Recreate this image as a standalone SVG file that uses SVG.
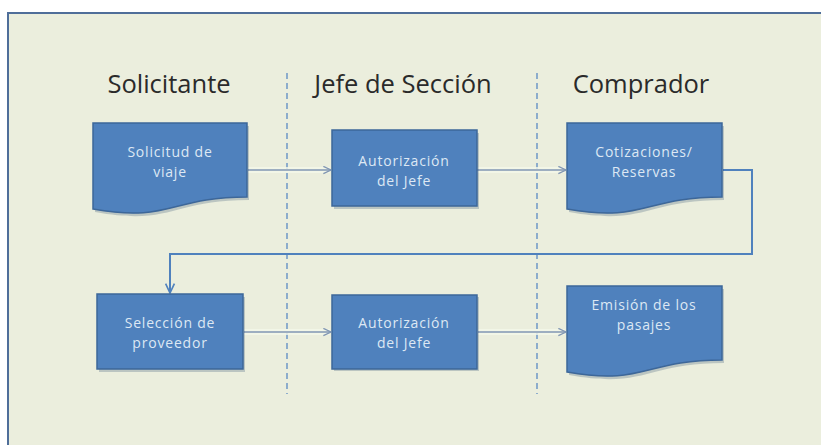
<svg xmlns="http://www.w3.org/2000/svg" width="821" height="445" viewBox="0 0 821 445">
  <style>
    .hdr { font-family: "Open Sans", "Liberation Sans", sans-serif; font-size: 25.5px; fill: #2a2a2a; text-anchor: middle; }
    .lbl { font-family: "Open Sans", "Liberation Sans", sans-serif; font-size: 14px; letter-spacing: 0.8px; fill: #dde8f4; text-anchor: middle; }
    .shape { fill: #4f81bd; stroke: #3d6799; stroke-width: 1.5; }
    .shadow { fill: #2d4a6e; opacity: 0.25; }
    .lane { stroke: #5b8ac4; stroke-width: 1.3; stroke-dasharray: 6 4; fill: none; }
    .conn { stroke: #8096b3; stroke-width: 1.5; fill: none; }
    .halo { stroke: #f4f7ea; stroke-width: 6; fill: none; opacity: 0.8; }
    .loop { stroke: #4f81bd; stroke-width: 2; fill: none; }
  </style>
  <defs>
    <marker id="arr" viewBox="0 0 10 10" refX="9.5" refY="5" markerWidth="9" markerHeight="9" markerUnits="userSpaceOnUse" orient="auto">
      <path d="M1,1 L9.5,5 L1,9" fill="none" stroke="#8096b3" stroke-width="1.5"/>
    </marker>
    <marker id="arrb" viewBox="0 0 10 10" refX="9.5" refY="5" markerWidth="11" markerHeight="11" markerUnits="userSpaceOnUse" orient="auto">
      <path d="M1,1 L9.5,5 L1,9" fill="none" stroke="#4f81bd" stroke-width="1.5"/>
    </marker>
  </defs>

  <rect x="0" y="0" width="821" height="445" fill="#ffffff"/>
  <rect x="8" y="13" width="830" height="450" fill="#ebeedd" stroke="#4f6e99" stroke-width="2"/>

  <g id="lanes">
    <line class="lane" x1="287" y1="73" x2="287" y2="394"/>
    <line class="lane" x1="537" y1="73" x2="537" y2="394"/>
  </g>

  <g id="headers">
    <text class="hdr" x="169" y="93">Solicitante</text>
    <text class="hdr" x="403" y="93">Jefe de Sección</text>
    <text class="hdr" x="641" y="93">Comprador</text>
  </g>

  <g id="connectors">
    <line class="halo" x1="248" y1="170" x2="330" y2="170"/>
    <line class="conn" x1="248" y1="170" x2="331" y2="170" marker-end="url(#arr)"/>
    <line class="halo" x1="477" y1="170" x2="565" y2="170"/>
    <line class="conn" x1="477" y1="170" x2="566" y2="170" marker-end="url(#arr)"/>
    <line class="halo" x1="244" y1="332" x2="330" y2="332"/>
    <line class="conn" x1="244" y1="332" x2="331" y2="332" marker-end="url(#arr)"/>
    <line class="halo" x1="478" y1="332" x2="565" y2="332"/>
    <line class="conn" x1="478" y1="332" x2="566" y2="332" marker-end="url(#arr)"/>
    <polyline class="loop" points="723,170 752,170 752,254 170,254 170,293" marker-end="url(#arrb)"/>
  </g>

  <g id="n1">
    <path class="shadow" d="M95,126 H249 V200 C172,200 172,226 95,212 Z"/>
    <path class="shape" d="M93,123 H247 V197 C170,197 170,223 93,209 Z"/>
    <text class="lbl" x="170" y="157">Solicitud de</text>
    <text class="lbl" x="170" y="176.5">viaje</text>
  </g>

  <g id="n2">
    <rect class="shadow" x="334" y="133" width="145" height="76"/>
    <rect class="shape" x="332" y="130" width="145" height="76"/>
    <text class="lbl" x="404" y="166">Autorización</text>
    <text class="lbl" x="404" y="185.5">del Jefe</text>
  </g>

  <g id="n3">
    <path class="shadow" d="M569,126 H724 V200 C646,200 646,226 569,212 Z"/>
    <path class="shape" d="M567,123 H722 V197 C644,197 644,223 567,209 Z"/>
    <text class="lbl" x="644" y="157">Cotizaciones/</text>
    <text class="lbl" x="644" y="176.5">Reservas</text>
  </g>

  <g id="n4">
    <rect class="shadow" x="99" y="297" width="146" height="75"/>
    <rect class="shape" x="97" y="294" width="146" height="75"/>
    <text class="lbl" x="170" y="328">Selección de</text>
    <text class="lbl" x="170" y="347.5">proveedor</text>
  </g>

  <g id="n5">
    <rect class="shadow" x="334" y="297" width="145" height="74"/>
    <rect class="shape" x="332" y="295" width="145" height="74"/>
    <text class="lbl" x="404" y="328">Autorización</text>
    <text class="lbl" x="404" y="347.5">del Jefe</text>
  </g>

  <g id="n6">
    <path class="shadow" d="M569,289 H724 V363 C646,363 646,389 569,375 Z"/>
    <path class="shape" d="M567,286 H722 V360 C644,360 644,386 567,372 Z"/>
    <text class="lbl" x="644" y="310">Emisión de los</text>
    <text class="lbl" x="644" y="329.5">pasajes</text>
  </g>
</svg>
